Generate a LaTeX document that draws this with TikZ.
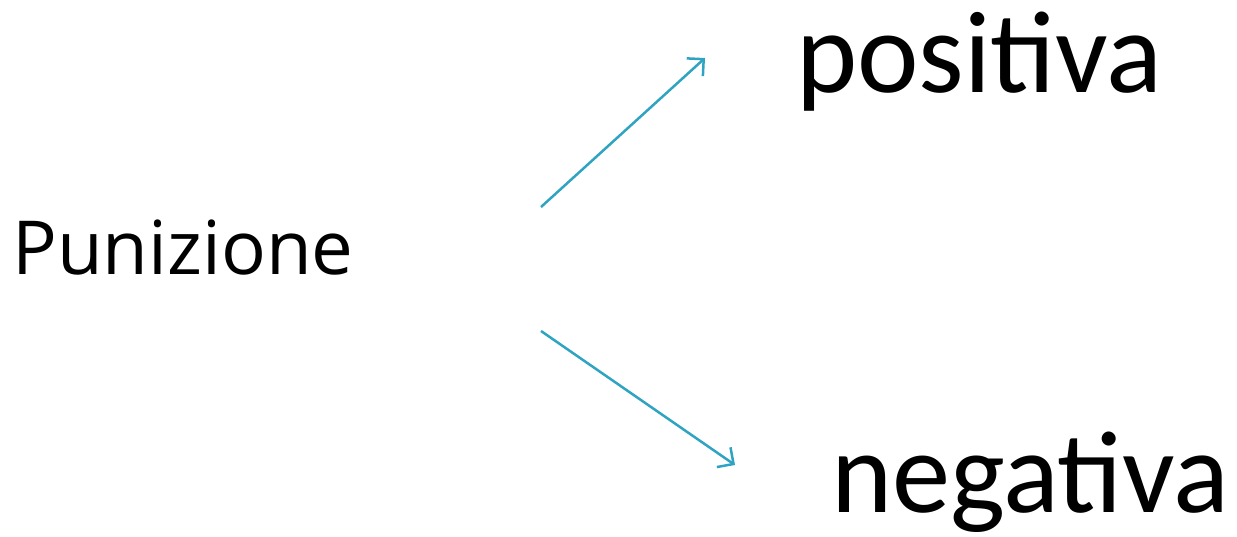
\documentclass[tikz,border=0pt]{standalone}
\usepackage{fontspec}
\setmainfont{Carlito}
\newfontfamily\punfont{Open Sans}
\usetikzlibrary{arrows.meta}
\definecolor{arrowblue}{HTML}{2FA4C2}
\begin{document}
\begin{tikzpicture}[x=1pt,y=-1pt,
  lbl/.style={inner sep=0pt, anchor=base west, text=black},
  conn/.style={draw=arrowblue, line width=2.5pt, -{Straight Barb[length=12pt,width=24pt,line width=2.5pt]}}]
\useasboundingbox (0,0) rectangle (1237,536);
\node[lbl, font=\punfont\fontsize{74.5}{80}\selectfont] (pun) at (12,274) {Punizione};
\node[lbl, font=\fontsize{116.5}{120}\selectfont] (pos) at (796,92) {positiva};
\node[lbl, font=\fontsize{116.5}{120}\selectfont] (neg) at (831,512) {negativa};
\coordinate (a1s) at (541,207);
\coordinate (a1e) at (705,58);
\coordinate (a2s) at (541,331);
\coordinate (a2e) at (735,465);
\draw[conn] (a1s) -- (a1e);
\draw[conn] (a2s) -- (a2e);
\end{tikzpicture}
\end{document}
